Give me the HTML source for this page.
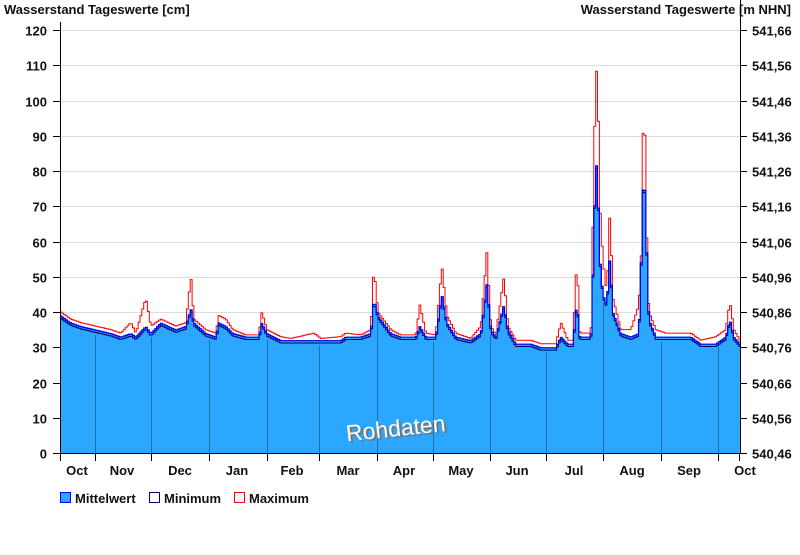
<!DOCTYPE html>
<html><head><meta charset="utf-8"><style>
body{margin:0;background:#fff;width:800px;height:550px;overflow:hidden}
text{font-family:"Liberation Sans",Arial,sans-serif;font-weight:bold;font-size:13px;fill:#111}
</style></head><body>
<svg id="s" width="800" height="550" xmlns="http://www.w3.org/2000/svg">
<text x="4" y="14">Wasserstand Tageswerte [cm]</text>
<text x="791" y="14" text-anchor="end">Wasserstand Tageswerte [m NHN]</text>
<g id="grid"></g>
<path id="mean" fill="#2ba7ff" stroke="none"/>
<g id="mlines"></g>
<polyline id="maxl" fill="none" stroke="#f00" stroke-width="1"/>
<polyline id="minl2" fill="none" stroke="#000066" stroke-width="1"/>
<polyline id="minl" fill="none" stroke="#0000ee" stroke-width="1.2"/>
<text x="348" y="438" transform="rotate(-6 398 430)" style="font-weight:normal;font-size:23px;fill:#777">Rohdaten</text>
<text x="346" y="436" transform="rotate(-6 398 430)" style="font-weight:normal;font-size:23px;fill:#fff">Rohdaten</text>
<line x1="60.5" y1="22" x2="60.5" y2="454" stroke="#000"/>
<line x1="740.5" y1="0" x2="740.5" y2="454" stroke="#000"/>
<line x1="53" y1="453.5" x2="747" y2="453.5" stroke="#000"/>
<g id="ax"></g>
<rect x="60.5" y="492.5" width="10" height="10" fill="#2ba7ff" stroke="#00f"/>
<text x="75" y="503">Mittelwert</text>
<rect x="149.5" y="492.5" width="10" height="10" fill="#fff" stroke="#000080"/>
<text x="164" y="503">Minimum</text>
<rect x="234.5" y="492.5" width="10" height="10" fill="#fff" stroke="#f00"/>
<text x="249" y="503">Maximum</text>
</svg>
<script>
var NS="http://www.w3.org/2000/svg";function el(p,t,a,tx){var e=document.createElementNS(NS,t);for(var k in a)e.setAttribute(k,a[k]);if(tx)e.textContent=tx;document.getElementById(p).appendChild(e);}
function Y(v){return 453-v*3.525;}
for(var i=0;i<=12;i++){var v=i*10,y=Math.round(Y(v))+0.5;
if(i>0)el("grid","line",{x1:61,x2:740,y1:y,y2:y,stroke:"#ddd"});
el("ax","line",{x1:53,x2:60,y1:y,y2:y,stroke:"#000"});
el("ax","line",{x1:740,x2:747,y1:y,y2:y,stroke:"#000"});
el("ax","text",{x:47,y:y+5,"text-anchor":"end"},String(v));
el("ax","text",{x:752,y:y+5},(540.46+i*0.1).toFixed(2).replace(".",","));}
var P=[[60,39,40],[70,37,38],[80,36,37],[95,35,36],[110,34,35],[120,33,34],[130,34,37],[135,33,34],[145,36,44],[150,34,36],[160,37,38],[175,35,36],[185,36,37],[190,41,50],[193,37,38],[205,34,35],[215,33,34],[218,37,39],[225,36,38],[232,34,35],[245,33,33.5],[258,33,33.5],[261,37,40],[266,34,35],[280,32,33],[290,32,32.5],[313,32,34],[320,32,32.5],[340,32,33],[345,33,34],[360,33,33.5],[370,34,35],[373,44,53],[377,39,40],[390,34,35],[400,33,33.5],[415,33,33.5],[419,36,42],[425,33,34],[435,33,33.5],[441,45,53],[446,37,39],[455,33,34],[470,32,32.5],[480,34,36],[486,48,57],[490,35,36],[495,33,33.5],[503,42,50],[507,35,36],[515,31,32],[530,31,32],[540,30,31],[555,30,31],[560,33,37],[567,31,32],[572,31,32],[576,43,55],[579,33,34],[590,33,34],[593,60,80],[595,85,111],[597,75,103],[599,55,70],[602,45,55],[606,42,45],[609,56,69],[612,40,44],[620,34,35],[630,33,35],[638,34,42],[641,60,60],[643,85,112],[645,65,70],[648,38,40],[655,33,35],[665,33,34],[690,33,34],[700,31,32],[715,31,33],[725,33,35],[729,38,43],[733,33,35],[739,31,32]];
function interp(x,j){for(var i=0;i<P.length-1;i++){if(x>=P[i][0]&&x<=P[i+1][0]){var t=(x-P[i][0])/(P[i+1][0]-P[i][0]);return P[i][j]+t*(P[i+1][j]-P[i][j]);}}return P[P.length-1][j];}
var mx=[60,95,151,209,267,319,377,433,490,546,603,661,718,739];
var mn=["Oct","Nov","Dec","Jan","Feb","Mar","Apr","May","Jun","Jul","Aug","Sep","Oct"];
for(var i=0;i<mx.length;i++){el("ax","line",{x1:mx[i]+0.5,x2:mx[i]+0.5,y1:453,y2:461,stroke:"#000"});
if(i>0&&i<13)el("mlines","line",{x1:mx[i]+0.5,x2:mx[i]+0.5,y1:Y(interp(mx[i],1)-1.5),y2:453,stroke:"#1f6fa8"});}
var lx=[77,122,180,237,292,348,404,461,517,574,632,689,745];
for(var i=0;i<13;i++)el("ax","text",{x:lx[i],y:475,"text-anchor":"middle"},mn[i]);
var d="M60,453",mxs="",mns="",mds="";
for(var x=60;x<=739;x+=1.86){var m=interp(x,1),M=interp(x,2),n=m-0.8;
var x2=Math.min(x+1.86,740);
d+=" L"+x.toFixed(1)+","+Y(m).toFixed(1)+" L"+x2.toFixed(1)+","+Y(m).toFixed(1);
mxs+=x.toFixed(1)+","+Y(M).toFixed(1)+" "+x2.toFixed(1)+","+Y(M).toFixed(1)+" ";
mns+=x.toFixed(1)+","+Y(n).toFixed(1)+" "+x2.toFixed(1)+","+Y(n).toFixed(1)+" ";
mds+=x.toFixed(1)+","+(Y(m)+0.5).toFixed(1)+" "+x2.toFixed(1)+","+(Y(m)+0.5).toFixed(1)+" ";}
d+=" L740,453 Z";
document.getElementById("mean").setAttribute("d",d);
document.getElementById("maxl").setAttribute("points",mxs);
document.getElementById("minl").setAttribute("points",mds);
document.getElementById("minl2").setAttribute("points",mns);
</script>
</body></html>
